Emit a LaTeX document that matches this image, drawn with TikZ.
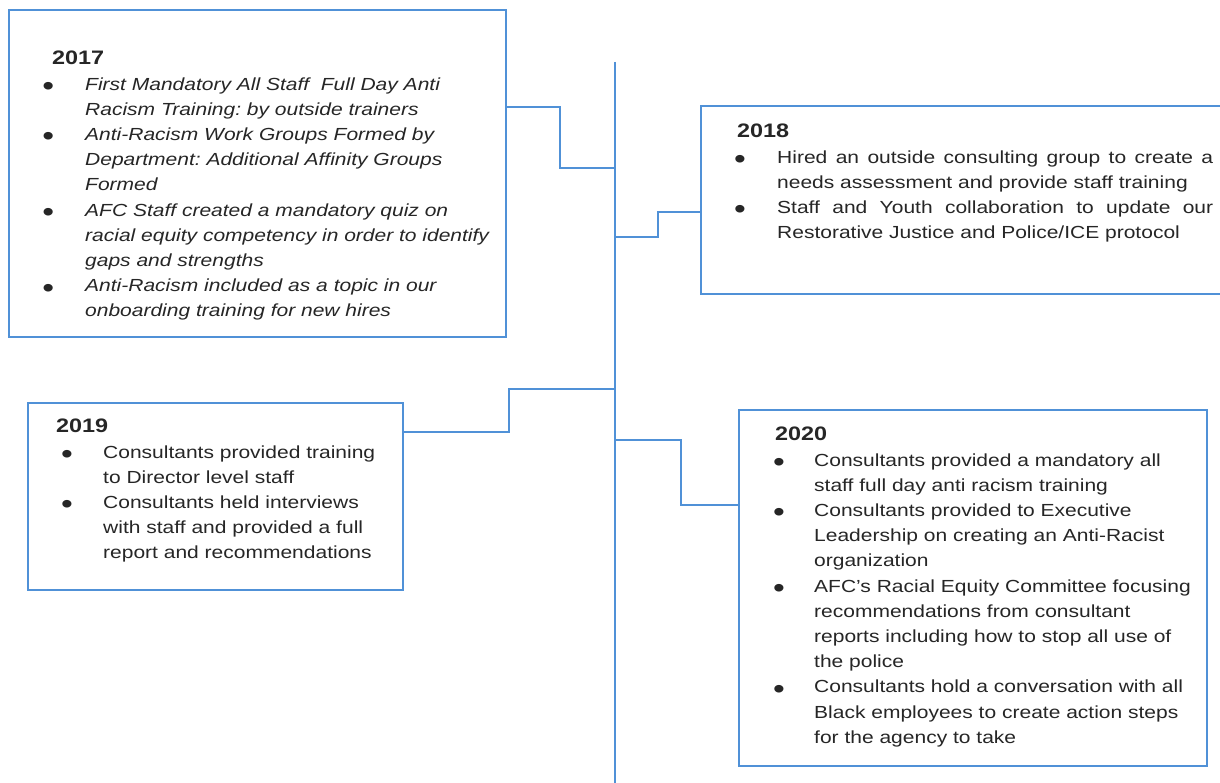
\documentclass[tikz,border=0pt]{standalone}
\usepackage{fontspec}
\setmainfont[FakeStretch=1.2]{Liberation Sans}
\frenchspacing

\definecolor{lineblue}{RGB}{80,145,215}
\newlength\itmind
\newcommand\itm[2][0pt]{\par\noindent\hangindent=\itmind\hangafter=1\makebox[\itmind][l]{\hspace*{#1}\raisebox{-5.5pt}{\scalebox{1.6}{\textbullet}}}#2}
\newcommand\yr[2][0pt]{\noindent\hspace*{#1}{\fontsize{19.5}{25.2}\selectfont\bfseries #2}}

\tikzset{
  yearbox/.style={draw=lineblue, line width=1.8pt, inner sep=0pt, outer sep=0pt},
  yeartext/.style={anchor=north west, inner sep=0pt, text=black!85, font=\fontsize{17.5}{25.2}\selectfont},
  link/.style={draw=lineblue, line width=1.8pt}
}

\begin{document}
\begin{tikzpicture}[x=1pt, y=-1pt]
            \useasboundingbox (0,0) rectangle (1220,783);
            \clip (0,0) rectangle (1220,783);
            \fill[white] (0,0) rectangle (1220,783);

            % timeline
            \coordinate (top) at (615,62);
            \coordinate (bottom) at (615,790);
            \draw[link] (top) -- (bottom);

            % boxes
            \node[yearbox, minimum width=497pt, minimum height=327pt] (B2017) at (257.5,173.5) {};
            \node[yearbox, minimum width=529pt, minimum height=188pt] (B2018) at (965.5,200) {};
            \node[yearbox, minimum width=375pt, minimum height=187pt] (B2019) at (215.5,496.5) {};
            \node[yearbox, minimum width=468pt, minimum height=356pt] (B2020) at (973,588) {};

            % texts
            \node[yeartext, text width=470pt, align=left] (T2017) at (42,51) {\setlength\itmind{43pt}\yr[10pt]{2017}\itshape
              \itm{First Mandatory All Staff~ Full Day Anti\newline Racism Training: by outside trainers}
              \itm{Anti-Racism Work Groups Formed by\newline Department: Additional Affinity Groups\newline Formed}
              \itm{AFC Staff created a mandatory quiz on\newline racial equity competency in order to identify\newline gaps and strengths}
              \itm{Anti-Racism included as a topic in our\newline onboarding training for new hires}\par};
            \node[yeartext, text width=479pt, align=justify] (T2018) at (734,124) {\setlength\itmind{43pt}\yr[3pt]{2018}
              \itm{Hired an outside consulting group to create a\linebreak needs assessment and provide staff training}
              \itm{Staff and Youth collaboration to update our\linebreak Restorative Justice and Police/ICE protocol}\par};
            \node[yeartext, text width=340pt, align=left] (T2019) at (56,419) {\setlength\itmind{47pt}\yr{2019}
              \itm[5pt]{Consultants provided training\newline to Director level staff}
              \itm[5pt]{Consultants held interviews\newline with staff and provided a full\newline report and recommendations}\par};
            \node[yeartext, text width=430pt, align=left] (T2020) at (773,427) {\setlength\itmind{41pt}\yr[2pt]{2020}
              \itm{Consultants provided a mandatory all\newline staff full day anti racism training}
              \itm{Consultants provided to Executive\newline Leadership on creating an Anti-Racist\newline organization}
              \itm{AFC’s Racial Equity Committee focusing\newline recommendations from consultant\newline reports including how to stop all use of\newline the police}
              \itm{Consultants hold a conversation with all\newline Black employees to create action steps\newline for the agency to take}\par};

            % connectors
            \coordinate (C2017) at (615,168);
            \coordinate (C2018) at (615,237);
            \coordinate (C2019) at (615,389);
            \coordinate (C2020) at (615,440);

            \draw[link] ([yshift=-97pt]B2017.north east) -| ([xshift=-55pt]C2017) -- (C2017);
            \draw[link] (C2018) -| ([xshift=-43pt,yshift=-106pt]B2018.north west) -- ([yshift=-106pt]B2018.north west);
            \draw[link] ([yshift=-29pt]B2019.north east) -| ([xshift=-106pt]C2019) -- (C2019);
            \draw[link] (C2020) -| ([xshift=-58pt,yshift=-95pt]B2020.north west) -- ([yshift=-95pt]B2020.north west);
\end{tikzpicture}
\end{document}
